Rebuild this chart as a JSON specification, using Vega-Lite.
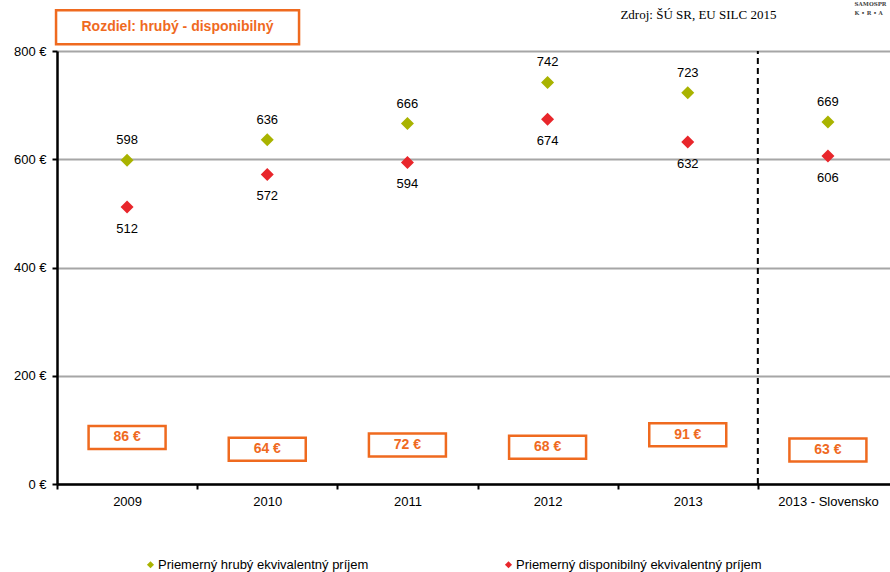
{
  "$schema": "https://vega.github.io/schema/vega-lite/v6.json",
  "width": 833,
  "height": 433,
  "autosize": "none",
  "padding": {"left": 57, "top": 51, "right": 0, "bottom": 88},
  "background": "white",
  "config": {
    "font": "Liberation Sans",
    "view": {"stroke": null},
    "locale": {"number": {"decimal": ",", "thousands": " ", "grouping": [3], "currency": ["", " €"]}}
  },
  "datasets": {
    "prijem": [
      {"rok": "2009", "typ": "Priemerný hrubý ekvivalentný príjem", "hodnota": 598},
      {"rok": "2010", "typ": "Priemerný hrubý ekvivalentný príjem", "hodnota": 636},
      {"rok": "2011", "typ": "Priemerný hrubý ekvivalentný príjem", "hodnota": 666},
      {"rok": "2012", "typ": "Priemerný hrubý ekvivalentný príjem", "hodnota": 742},
      {"rok": "2013", "typ": "Priemerný hrubý ekvivalentný príjem", "hodnota": 723},
      {"rok": "2013 - Slovensko", "typ": "Priemerný hrubý ekvivalentný príjem", "hodnota": 669},
      {"rok": "2009", "typ": "Priemerný disponibilný ekvivalentný príjem", "hodnota": 512},
      {"rok": "2010", "typ": "Priemerný disponibilný ekvivalentný príjem", "hodnota": 572},
      {"rok": "2011", "typ": "Priemerný disponibilný ekvivalentný príjem", "hodnota": 594},
      {"rok": "2012", "typ": "Priemerný disponibilný ekvivalentný príjem", "hodnota": 674},
      {"rok": "2013", "typ": "Priemerný disponibilný ekvivalentný príjem", "hodnota": 632},
      {"rok": "2013 - Slovensko", "typ": "Priemerný disponibilný ekvivalentný príjem", "hodnota": 606}
    ],
    "rozdiel": [
      {"rok": "2009", "rozdiel": 86},
      {"rok": "2010", "rozdiel": 64},
      {"rok": "2011", "rozdiel": 72},
      {"rok": "2012", "rozdiel": 68},
      {"rok": "2013", "rozdiel": 91},
      {"rok": "2013 - Slovensko", "rozdiel": 63}
    ]
  },
  "encoding": {
    "x": {
      "field": "rok",
      "type": "nominal",
      "sort": null,
      "scale": {"domain": ["2009", "2010", "2011", "2012", "2013", "2013 - Slovensko"], "range": [0, 841], "paddingInner": 0, "paddingOuter": 0},
      "axis": {
        "title": null,
        "labelAngle": 0,
        "labelFontSize": 13,
        "labelColor": "#000000",
        "labelPadding": 6,
        "tickBand": "extent",
        "tickSize": 5,
        "tickWidth": 2,
        "tickColor": "#000000",
        "domainColor": "#000000",
        "domainWidth": 2.5,
        "grid": false
      }
    }
  },
  "layer": [
    {
      "data": {"values": [{}]},
      "mark": {"type": "rule", "color": "#000000", "strokeWidth": 2, "strokeDash": [6, 4]},
      "encoding": {
        "x": {"datum": "2013 - Slovensko", "bandPosition": 0},
        "y": {"datum": 0, "type": "quantitative", "scale": {"domain": [0, 800], "nice": false, "zero": true},
          "axis": {
            "title": null,
            "values": [0, 200, 400, 600, 800],
            "labelExpr": "datum.value + ' €'",
            "labelFontSize": 13,
            "labelColor": "#000000",
            "labelPadding": 6,
            "tickSize": 5,
            "tickWidth": 2,
            "tickColor": "#000000",
            "domainColor": "#000000",
            "domainWidth": 2.5,
            "grid": true,
            "gridColor": "#a6a6a6",
            "gridWidth": 2
          }},
        "y2": {"datum": 800}
      }
    },
    {
      "data": {"name": "prijem"},
      "mark": {"type": "point", "shape": "diamond", "filled": true, "size": 169, "opacity": 1},
      "encoding": {
        "y": {"field": "hodnota", "type": "quantitative"},
        "color": {
          "field": "typ",
          "type": "nominal",
          "sort": null,
          "scale": {"domain": ["Priemerný hrubý ekvivalentný príjem", "Priemerný disponibilný ekvivalentný príjem"], "range": ["#a9b300", "#e8262b"]},
          "legend": {
            "title": null,
            "orient": "none",
            "legendX": 87,
            "legendY": 507,
            "direction": "horizontal",
            "symbolType": "diamond",
            "symbolSize": 50,
            "symbolOpacity": 1,
            "labelFontSize": 13,
            "labelColor": "#000000",
            "labelOffset": 1,
            "labelLimit": 400,
            "columnPadding": 133,
            "padding": 0
          }
        }
      }
    },
    {
      "data": {"name": "prijem"},
      "transform": [{"filter": "datum.typ === 'Priemerný hrubý ekvivalentný príjem'"}],
      "mark": {"type": "text", "fontSize": 13, "color": "#000000", "dy": -20},
      "encoding": {
        "y": {"field": "hodnota", "type": "quantitative"},
        "text": {"field": "hodnota", "type": "quantitative"}
      }
    },
    {
      "data": {"name": "prijem"},
      "transform": [{"filter": "datum.typ === 'Priemerný disponibilný ekvivalentný príjem'"}],
      "mark": {"type": "text", "fontSize": 13, "color": "#000000", "dy": 22},
      "encoding": {
        "y": {"field": "hodnota", "type": "quantitative"},
        "text": {"field": "hodnota", "type": "quantitative"}
      }
    },
    {
      "data": {"name": "rozdiel"},
      "mark": {"type": "point", "shape": "M-1,-0.2987H1V0.2987H-1Z", "size": 5929, "filled": true, "fill": "#ffffff", "stroke": "#ef6a1f", "strokeWidth": 2.5, "opacity": 1},
      "encoding": {
        "y": {"field": "rozdiel", "type": "quantitative"}
      }
    },
    {
      "data": {"name": "rozdiel"},
      "mark": {"type": "text", "fontSize": 14, "fontWeight": "bold", "color": "#ef6a1f", "baseline": "middle"},
      "encoding": {
        "y": {"field": "rozdiel", "type": "quantitative"},
        "text": {"field": "rozdiel", "type": "quantitative", "format": "$d"}
      }
    },
    {
      "data": {"values": [{"t": "Rozdiel: hrubý - disponibilný"}]},
      "mark": {"type": "point", "shape": "M-1,-0.14H1V0.14H-1Z", "size": 59049, "filled": true, "fill": "#ffffff", "stroke": "#ef6a1f", "strokeWidth": 2.5, "opacity": 1},
      "encoding": {
        "x": {"datum": "2009", "bandPosition": 0.86},
        "y": {"datum": 844, "type": "quantitative"}
      }
    },
    {
      "data": {"values": [{"t": "Rozdiel: hrubý - disponibilný"}]},
      "mark": {"type": "text", "fontSize": 14, "fontWeight": "bold", "color": "#ef6a1f", "baseline": "middle"},
      "encoding": {
        "x": {"datum": "2009", "bandPosition": 0.86},
        "y": {"datum": 844, "type": "quantitative"},
        "text": {"field": "t"}
      }
    },
    {
      "data": {"values": [{"t": "Zdroj: ŠÚ SR, EU SILC 2015"}]},
      "mark": {"type": "text", "fontSize": 13, "font": "Liberation Serif", "color": "#000000", "baseline": "middle"},
      "encoding": {
        "x": {"datum": "2013", "bandPosition": 0.576},
        "y": {"datum": 866, "type": "quantitative"},
        "text": {"field": "t"}
      }
    },
    {
      "data": {"values": [{"t": "SAMOSPR", "v": 887}, {"t": "K • R • A", "v": 871}]},
      "mark": {"type": "text", "fontSize": 5.5, "font": "DejaVu Serif", "fontWeight": "bold", "color": "#444444", "baseline": "middle", "align": "left"},
      "encoding": {
        "x": {"datum": "2013 - Slovensko", "bandPosition": 0.69},
        "y": {"field": "v", "type": "quantitative"},
        "text": {"field": "t"}
      }
    }
  ]
}
